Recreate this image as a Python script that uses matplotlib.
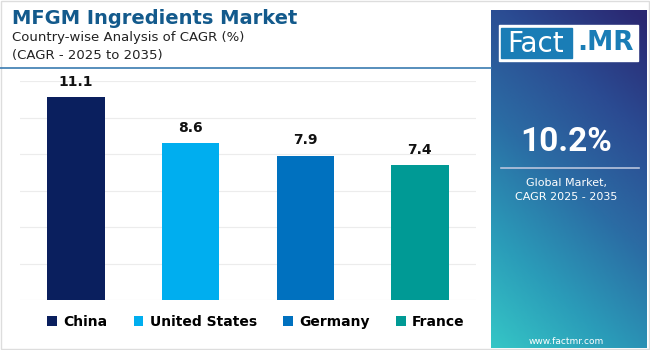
import numpy as np
import matplotlib
matplotlib.use("Agg")
import matplotlib.pyplot as plt
from matplotlib.colors import LinearSegmentedColormap
from matplotlib.patches import Rectangle

# data
countries = ["China", "United States", "Germany", "France"]
cagr = [11.1, 8.6, 7.9, 7.4]
colors = ["#0a1f5e", "#00aeef", "#0071bf", "#009a95"]
global_cagr = "10.2%"

plt.rcParams['font.family'] = ['DejaVu Sans']

fig = plt.figure(figsize=(6.5, 3.5), dpi=100)
fig.patch.set_facecolor("white")

# title block
fig.text(12/650, 1 - 19/350, "MFGM Ingredients Market", fontsize=14, fontweight="bold",
         color="#135a8c", va="center", ha="left")
fig.text(12/650, 1 - 38/350, "Country-wise Analysis of CAGR (%)", fontsize=9.5,
         color="#222222", va="center", ha="left")
fig.text(12/650, 1 - 56/350, "(CAGR - 2025 to 2035)", fontsize=9.5,
         color="#222222", va="center", ha="left")
fig.add_artist(plt.Line2D([0, 491/650], [1 - 68/350, 1 - 68/350], color="#3a7bb0", lw=1.2))

# bar chart
ax = fig.add_axes([20/650, 50/350, 456/650, 219/350])
x = np.arange(len(countries))
bars = ax.bar(x, cagr, width=0.5, color=colors, zorder=3)
for xi, v in zip(x, cagr):
    ax.annotate(f"{v}", (xi, v), xytext=(0, 6), textcoords="offset points",
                ha="center", va="bottom", fontsize=10, fontweight="bold", color="#111111")
ax.set_xlim(-0.49, 3.49)
ax.set_ylim(0, 12)
ax.set_yticks(np.arange(0, 13, 2))
ax.grid(axis="y", color="#ececec", lw=0.8, zorder=0)
ax.tick_params(left=False, bottom=False, labelleft=False, labelbottom=False)
for s in ax.spines.values():
    s.set_visible(False)

fig.legend(bars, countries, loc="center", bbox_to_anchor=(256/650, 1 - 322/350), ncol=4,
           frameon=False, handlelength=0.7, handleheight=0.7, handletextpad=0.45,
           columnspacing=1.9, prop={"weight": "bold", "size": 10})

# right side panel with gradient
pax = fig.add_axes([491/650, 2/350, 156/650, 338/350])
ny, nx = 200, 100
yy, xx = np.mgrid[0:1:ny*1j, 0:1:nx*1j]
t = np.clip(0.72 * yy + 0.3 * xx, 0, 1)
cmap = LinearSegmentedColormap.from_list("p", ["#35c6c6", "#2a9ab8", "#2b6ca4", "#2b4b92", "#2a2872"])
pax.imshow(t, cmap=cmap, origin="lower", extent=[0, 1, 0, 1], aspect="auto")
pax.set_xlim(0, 1)
pax.set_ylim(0, 1)
pax.axis("off")

# logo
def px(xp, yp):
    return ((xp - 491) / 156, (340 - yp) / 338)

x0, y0 = px(499, 53)
x1, y1 = px(638, 17)
pax.add_patch(Rectangle((x0, y0), x1 - x0, y1 - y0, color="white", zorder=3))
bx0, by0 = px(501, 50)
bx1, by1 = px(572, 20)
pax.add_patch(Rectangle((bx0, by0), bx1 - bx0, by1 - by0, color="#1a7db6", zorder=4))
lx, ly = px(536, 35.5)
pax.text(lx, ly, "Fact", color="white", fontsize=20, ha="center", va="center", zorder=5)
mx, my = px(605, 35.5)
pax.text(mx, my, ".MR", color="#1a7db6", fontsize=19, fontweight="bold", ha="center", va="center", zorder=5)

cx, cy = px(566, 134)
pax.text(cx, cy, global_cagr, color="white", fontsize=24, fontweight="bold", ha="center", va="center",
         family=["Roboto", "DejaVu Sans"])
ax0, ay = px(501, 160)
ax1, _ = px(639, 160)
pax.plot([ax0, ax1], [ay, ay], color="#b8c4dd", lw=1.2)
gx, gy = px(566, 175)
pax.text(gx, gy, "Global Market,", color="white", fontsize=8, ha="center", va="center")
gx, gy = px(566, 189)
pax.text(gx, gy, "CAGR 2025 - 2035", color="white", fontsize=8, ha="center", va="center")
wx, wy = px(566, 334)
pax.text(wx, wy, "www.factmr.com", color="white", fontsize=6.5, ha="center", va="center")

# light outer frame
fig.add_artist(Rectangle((0.002, 0.004), 0.996, 0.992, fill=False, edgecolor="#dddddd", lw=1,
                         transform=fig.transFigure))

fig.savefig("out.png", dpi=100)
